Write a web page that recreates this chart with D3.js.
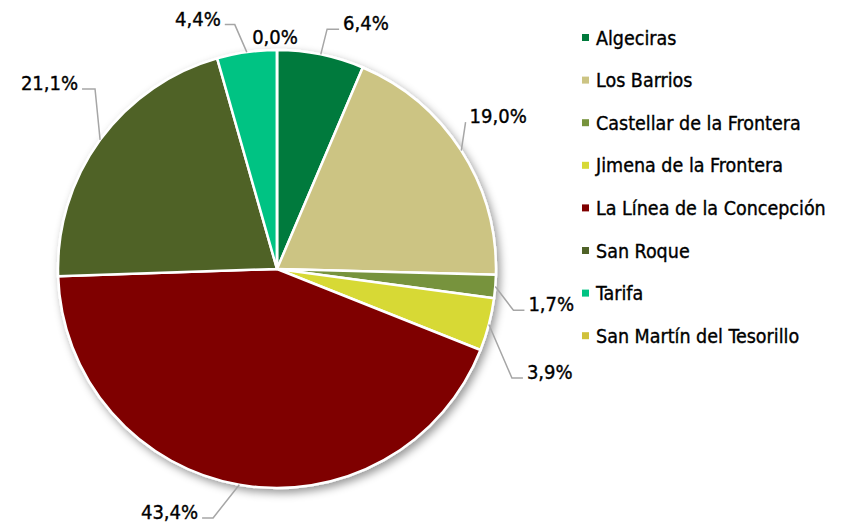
<!DOCTYPE html>
<html lang="es">
  <head>
    <meta charset="utf-8">
    <title>Tarta municipios</title>
    <script src="https://d3js.org/d3.v7.min.js"></script>
    <style>
      body { margin: 0; background: #fff; }
      #chart text { font-family: "DejaVu Sans Condensed", "DejaVu Sans", sans-serif; fill: #000; stroke: #000; stroke-width: 0.35px; }
    </style>
  </head>
  <body>
    <div id="chart"></div>
    <script>
      "use strict"
      // municipios (orden de la leyenda y de los sectores)
      var municipios = ["Algeciras", "Los Barrios", "Castellar de la Frontera", "Jimena de la Frontera",
                        "La Línea de la Concepción", "San Roque", "Tarifa", "San Martín del Tesorillo"];
      var porcentajes = [6.4, 19.0, 1.7, 3.9, 43.4, 21.1, 4.4, 0.0];
      var colores = ["#007a3c", "#ccc483", "#77933c", "#d7d935", "#7f0000", "#4f6228", "#00c383", "#d0c13a"];

      // donde va cada etiqueta: codo de la linea (angulo en grados, radio) y largo del tramo horizontal
      var codoAngulo = [11.8, 52.1, 99.9, 114.9, 194.4, 314.7, 350.2, 0];
      var codoRadio  = [245, 239, 240, 259, 257, 256, 248, 0];
      var tramo      = [12, 0, 11, 11, -11, -13, -10, 0];

      var ancho = 852, alto = 524;
      var cx = 277, cy = 269, radio = 219;

      var svg = d3.select('#chart').append('svg')
          .attr('width', ancho)
          .attr('height', alto);

      var defs = svg.append('defs');
      var sombra = defs.append('filter').attr('id', 'sombra')
          .attr('x', '-20%').attr('y', '-20%').attr('width', '140%').attr('height', '140%');
      sombra.append('feDropShadow')
          .attr('dx', 3).attr('dy', 4)
          .attr('stdDeviation', 4)
          .attr('flood-color', '#000')
          .attr('flood-opacity', 0.4);

      var datos = municipios.map((m, i) => ({nombre: m, valor: porcentajes[i], color: colores[i], i: i}));

      var pie = d3.pie().sort(null).value(d => d.valor);
      var arc = d3.arc().innerRadius(0).outerRadius(radio);
      var arcos = pie(datos);

      var formato = d3.formatLocale({decimal: ",", thousands: ".", grouping: [3], currency: ["", "€"]}).format(".1f");

      var g = svg.append('g').attr('transform', 'translate(' + cx + ',' + cy + ')');

      g.append('g').attr('filter', 'url(#sombra)')
        .selectAll('path')
        .data(arcos)
        .enter().append('path')
          .attr('d', arc)
          .attr('fill', d => d.data.color)
          .attr('stroke', '#fff')
          .attr('stroke-width', 2.5)
          .attr('stroke-linejoin', 'round');

      // lineas guia y etiquetas
      function polar(angGrados, r) {
        var a = angGrados * Math.PI / 180;
        return [r * Math.sin(a), -r * Math.cos(a)];
      }

      var etiquetas = g.append('g');
      arcos.forEach(function(d) {
        var i = d.data.i;
        var medio = (d.startAngle + d.endAngle) / 2 * 180 / Math.PI;
        var texto = formato(d.data.valor) + '%';
        if (d.data.valor === 0) {
          var p = polar(medio, radio);
          etiquetas.append('text')
            .attr('x', p[0] - 2)
            .attr('y', p[1] - 6)
            .attr('text-anchor', 'middle')
            .style('font-size', '20px')
            .text(texto);
          return;
        }
        var ini = polar(medio, radio);
        var codo = polar(codoAngulo[i], codoRadio[i]);
        var fin = [codo[0] + tramo[i], codo[1]];
        etiquetas.append('polyline')
          .attr('points', [ini, codo, fin].map(p => p.join(',')).join(' '))
          .attr('fill', 'none')
          .attr('stroke', '#a6a6a6')
          .attr('stroke-width', 1.5);
        var derecha = tramo[i] > 0 || (tramo[i] === 0 && codo[0] > 0);
        etiquetas.append('text')
          .attr('x', fin[0] + (derecha ? 4 : -4))
          .attr('y', fin[1] + 1)
          .attr('text-anchor', derecha ? 'start' : 'end')
          .style('font-size', '20px')
          .text(texto);
      });

      // leyenda
      var leyenda = svg.append('g').attr('transform', 'translate(582,34)');
      var item = leyenda.selectAll('.item')
          .data(datos)
        .enter().append('g')
          .attr('class', 'item')
          .attr('transform', (d, i) => 'translate(0,' + i * 42.6 + ')');
      item.append('rect')
          .attr('width', 7)
          .attr('height', 7)
          .attr('fill', d => d.color);
      item.append('text')
          .attr('x', 14)
          .attr('y', 3.5)
          .attr('dy', '0.36em')
          .style('font-size', '19.5px')
          .text(d => d.nombre);
    </script>
  </body>
</html>
